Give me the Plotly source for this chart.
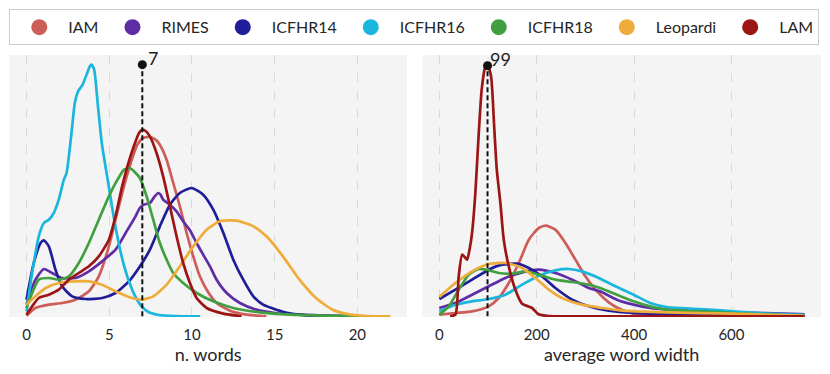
import plotly.graph_objects as go
from plotly.subplots import make_subplots

# ---------------- data (kernel-density curves, arbitrary density units) --------
series_names = ["IAM", "RIMES", "ICFHR14", "ICFHR16", "ICFHR18", "Leopardi", "LAM"]
series_colors = ["#cc5d58", "#5e2ca5", "#1f1d9a", "#1ab6dd", "#40a040", "#f0ac3a", "#9b1515"]

# left panel: number of words per line
iam_words_x = [0, 0.54, 1.35, 2.15, 2.96, 3.77, 4.37, 4.98, 5.38, 5.89, 6.3, 6.7, 7.05, 7.46, 7.8, 8.06, 8.47, 8.87, 9.27, 9.68, 10.08, 10.48, 10.89, 11.49, 12.3, 13.2, 14.5]
iam_words_y = [2, 25, 35, 40, 50, 75, 120, 210, 290, 390, 460, 515, 535, 538, 530, 515, 470, 400, 330, 250, 180, 120, 80, 40, 17, 6, 0]

rimes_words_x = [0, 0.54, 1.05, 1.55, 2.15, 2.96, 3.77, 4.57, 5.38, 5.99, 6.59, 6.85, 7.1, 7.46, 7.75, 7.96, 8.1, 8.26, 8.67, 9.07, 9.47, 9.88, 10.28, 10.68, 11.09, 11.49, 12.1, 12.9, 13.9, 15, 16.5, 18.5, 20.2]
rimes_words_y = [35, 110, 142, 130, 115, 115, 135, 165, 200, 250, 300, 325, 335, 340, 360, 370, 365, 350, 335, 315, 285, 258, 220, 185, 150, 110, 70, 40, 20, 10, 5, 2, 0]

icfhr14_words_x = [0, 0.44, 0.85, 1.05, 1.35, 1.75, 2.15, 2.76, 3.57, 4.57, 5.38, 6.19, 6.79, 7.46, 8.06, 8.67, 9.27, 9.98, 10.68, 11.29, 11.9, 12.5, 13.1, 13.71, 14.3, 15.1, 16, 17, 18.5]
icfhr14_words_y = [50, 160, 220, 228, 210, 140, 90, 60, 52, 55, 70, 105, 145, 200, 270, 335, 370, 385, 365, 320, 250, 170, 110, 60, 35, 20, 8, 3, 0]

icfhr16_words_x = [0, 0.34, 0.74, 1.05, 1.35, 1.65, 1.95, 2.26, 2.42, 2.72, 2.92, 3.12, 3.39, 3.63, 3.83, 3.93, 4.09, 4.3, 4.55, 4.94, 5.2, 5.45, 5.8, 6.19, 6.59, 6.99, 7.4, 8, 9, 10.5]
icfhr16_words_y = [15, 130, 240, 280, 290, 310, 350, 410, 430, 550, 640, 675, 695, 725, 750, 755, 740, 640, 520, 400, 320, 250, 170, 105, 58, 28, 12, 4, 1, 0]

icfhr18_words_x = [0, 0.34, 0.74, 1.35, 1.95, 2.56, 3.16, 3.77, 4.37, 4.98, 5.5, 5.9, 6.25, 6.6, 6.85, 7.26, 7.66, 8.06, 8.47, 8.87, 9.47, 10.28, 11.29, 12.5, 14.1, 16, 18, 20.2]
icfhr18_words_y = [25, 70, 110, 115, 110, 120, 160, 220, 290, 360, 410, 440, 445, 430, 415, 360, 290, 220, 170, 130, 100, 70, 45, 25, 12, 5, 2, 0]

leopardi_words_x = [0, 0.54, 1.15, 1.95, 2.96, 3.77, 4.57, 5.38, 6.19, 6.99, 7.66, 8.47, 9.27, 10.08, 10.89, 11.69, 12.7, 13.71, 14.5, 15.5, 16.5, 17.5, 18.5, 19.6, 20.6, 22]
leopardi_words_y = [35, 60, 85, 100, 105, 105, 95, 75, 58, 50, 60, 95, 150, 210, 260, 285, 287, 270, 240, 180, 110, 55, 20, 5, 1, 0]

lam_words_x = [0, 0.34, 0.74, 1.35, 1.95, 2.56, 3.16, 3.77, 4.37, 4.98, 5.38, 5.78, 6.1, 6.45, 6.8, 7.0, 7.2, 7.46, 7.86, 8.26, 8.67, 9.07, 9.47, 9.88, 10.28, 10.89, 11.9, 13]
lam_words_y = [5, 30, 55, 65, 80, 110, 130, 150, 180, 230, 300, 390, 450, 505, 550, 560, 556, 540, 490, 420, 330, 240, 160, 100, 55, 25, 8, 0]

# right panel: average word width
iam_width_x = [0, 33, 67, 101.5, 122, 142.6, 163.2, 183.8, 204.3, 219.3, 238.4, 259, 279.5, 300, 320.7, 348, 371, 399, 430, 480, 750]
iam_width_y = [5, 10, 15, 30, 55, 100, 160, 230, 265, 272, 260, 220, 170, 120, 80, 42, 22, 8, 2, 0, 0]

rimes_width_x = [0, 33, 67.2, 101.5, 135.7, 170, 204.3, 238.4, 272.8, 307, 330, 364.6, 399, 433, 501, 604, 741, 750]
rimes_width_y = [25, 40, 65, 90, 115, 132, 140, 130, 110, 85, 75, 50, 35, 25, 17, 12, 7, 6]

icfhr14_width_x = [0, 33, 67.2, 101.5, 129, 159.7, 183.8, 211, 238.4, 272.8, 307, 348, 400, 467, 550, 650, 750]
icfhr14_width_y = [52, 80, 110, 140, 155, 158, 145, 120, 85, 50, 30, 17, 10, 6, 4, 2, 1]

icfhr16_width_x = [0, 33, 67.2, 101.5, 135.7, 170, 204.3, 238.4, 266, 293, 327.6, 361.8, 399, 433, 467, 536, 604, 673, 741, 750]
icfhr16_width_y = [15, 35, 45, 52, 65, 95, 122, 138, 142, 135, 115, 90, 65, 40, 28, 22, 15, 8, 5, 4]

icfhr18_width_x = [0, 19.3, 39.8, 60.4, 81, 101.5, 122, 149.4, 176.8, 204.3, 238.4, 272.8, 307, 330, 364.6, 399, 433, 467, 536, 604, 673, 750]
icfhr18_width_y = [5, 30, 80, 125, 142, 138, 130, 128, 135, 125, 110, 103, 95, 85, 65, 45, 30, 20, 15, 10, 5, 2]

leopardi_width_x = [0, 33, 67.2, 101.5, 135.7, 170, 197.3, 224.8, 252, 293, 334.4, 371, 467, 604, 748]
leopardi_width_y = [58, 100, 135, 157, 160, 145, 115, 80, 55, 35, 25, 18, 12, 8, 2]

lam_width_x = [22, 33, 39.8, 46.7, 52, 57, 62, 67.2, 74, 80.2, 87, 93.9, 99.3, 106.2, 113, 118, 125.4, 132.3, 142.6, 156.2, 170, 182, 190.5, 204, 225, 260, 750]
lam_width_y = [0, 5, 120, 185, 178, 170, 200, 250, 370, 530, 680, 745, 752, 720, 560, 440, 340, 230, 150, 80, 38, 30, 25, 6, 1, 0, 0]

# marked modes
mode_words = 7
mode_width = 99

words_tickvals = [0, 5, 10, 15, 20]
width_tickvals = [0, 200, 400, 600]
left_title = "n. words"
right_title = "average word width"

left_series = [(iam_words_x, iam_words_y), (rimes_words_x, rimes_words_y), (icfhr14_words_x, icfhr14_words_y),
               (icfhr16_words_x, icfhr16_words_y), (icfhr18_words_x, icfhr18_words_y),
               (leopardi_words_x, leopardi_words_y), (lam_words_x, lam_words_y)]
right_series = [(iam_width_x, iam_width_y), (rimes_width_x, rimes_width_y), (icfhr14_width_x, icfhr14_width_y),
                (icfhr16_width_x, icfhr16_width_y), (icfhr18_width_x, icfhr18_width_y),
                (leopardi_width_x, leopardi_width_y), (lam_width_x, lam_width_y)]

# ---------------- figure ----------------
FONT = "Lato, 'Open Sans', sans-serif"
W, H = 830, 374

fig = make_subplots(rows=1, cols=2)

for col, series in ((1, left_series), (2, right_series)):
    for name, color, (xs, ys) in zip(series_names, series_colors, series):
        fig.add_trace(go.Scatter(x=xs, y=ys, mode="lines", name=name, showlegend=False,
                                 line=dict(color=color, width=2.7, shape="spline", smoothing=0.6),
                                 hoverinfo="skip"), row=1, col=col)

# legend entries (round markers)
for name, color in zip(series_names, series_colors):
    fig.add_trace(go.Scatter(x=[None], y=[None], mode="markers", name=name,
                             marker=dict(color=color, size=16, symbol="circle")), row=1, col=1)

# mode markers + dashed lines
for col, mode_x, series in ((1, mode_words, left_series), (2, mode_width, right_series)):
    top = max(max(ys) for _, ys in series)
    fig.add_trace(go.Scatter(x=[mode_x, mode_x], y=[0, top], mode="lines", showlegend=False,
                             line=dict(color="#111111", width=2, dash="5px,3px"), hoverinfo="skip"),
                  row=1, col=col)
    fig.add_trace(go.Scatter(x=[mode_x], y=[top], mode="markers", showlegend=False,
                             marker=dict(color="#111111", size=9), cliponaxis=False, hoverinfo="skip"),
                  row=1, col=col)
    fig.add_annotation(x=mode_x, y=top, text=str(mode_x), showarrow=False,
                       xanchor="left", yanchor="bottom", xshift=4 if col == 1 else 0, yshift=-6,
                       font=dict(family=FONT, size=18, color="#222222"),
                       xref="x" if col == 1 else "x2", yref="y" if col == 1 else "y2")

axis_common = dict(showline=False, zeroline=False, showgrid=True, gridcolor="#d9d9d9",
                   griddash="dash", gridwidth=1.3, ticks="outside", ticklen=4,
                   tickcolor="rgba(0,0,0,0)", tickfont=dict(family=FONT, size=15, color="#262626"),
                   title_font=dict(family=FONT, size=18, color="#262626"), title_standoff=5)
fig.update_xaxes(**axis_common)
fig.update_xaxes(domain=[9.3 / W, 407 / W], range=[-1.04, 23.0], tickvals=words_tickvals,
                 title_text=left_title, row=1, col=1)
fig.update_xaxes(domain=[422.3 / W, 821 / W], range=[-35, 784], tickvals=width_tickvals,
                 title_text=right_title, row=1, col=2)
fig.update_yaxes(showgrid=False, zeroline=False, showticklabels=False, ticks="",
                 domain=[1 - 317 / H, 1 - 55 / H], range=[-2, 784])

fig.update_layout(
    width=W, height=H,
    margin=dict(l=0, r=0, t=0, b=0),
    paper_bgcolor="white", plot_bgcolor="#f4f4f4",
    font=dict(family=FONT, size=15, color="#262626"),
    showlegend=True,
    legend=dict(orientation="h", x=9.3 / W, y=1 - 9.3 / H, xanchor="left", yanchor="top",
                bordercolor="#cccccc", borderwidth=1, bgcolor="white",
                font=dict(family=FONT, size=16, color="#262626"), itemwidth=48),
)

fig.write_html("out.html", config={"displayModeBar": False},
               post_script="document.body.style.margin='0';")
